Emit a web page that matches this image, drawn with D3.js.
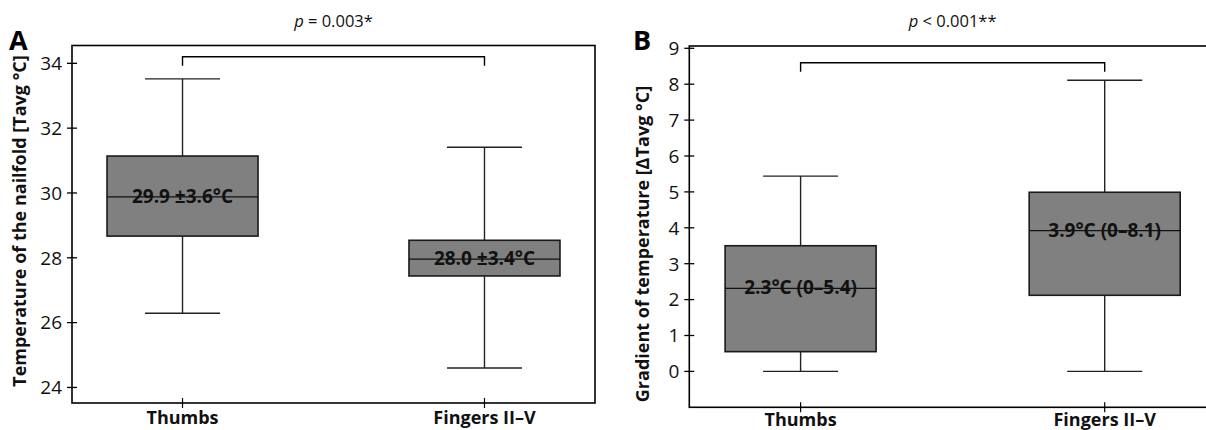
<!DOCTYPE html>
<html><head><meta charset="utf-8">
<script src="https://cdn.jsdelivr.net/npm/d3@7"></script>
<style>
html,body{margin:0;padding:0;background:#fff;}
svg{display:block;font-family:"Open Sans",sans-serif;}
</style></head>
<body><div id="chart"></div>
<script>
// ---- data ----
const categories = ["Thumbs", "Fingers II\u2013V"];
// Panel A: temperature of the nailfold
const aWhiskerLow  = [26.29, 24.6];
const aQ1          = [28.67, 27.44];
const aMedian      = [29.88, 27.96];
const aQ3          = [31.14, 28.54];
const aWhiskerHigh = [33.52, 31.41];
const aBoxLabels   = ["29.9 \u00b13.6\u00b0C", "28.0 \u00b13.4\u00b0C"];
const aTicks       = [24, 26, 28, 30, 32, 34];
// Panel B: gradient of temperature
const bWhiskerLow  = [0.0, 0.0];
const bQ1          = [0.55, 2.12];
const bMedian      = [2.31, 3.92];
const bQ3          = [3.50, 4.99];
const bWhiskerHigh = [5.44, 8.11];
const bBoxLabels   = ["2.3\u00b0C (0\u20135.4)", "3.9\u00b0C (0\u20138.1)"];
const bTicks       = [0, 1, 2, 3, 4, 5, 6, 7, 8, 9];

const W = 1206, H = 430;
const svg = d3.select("#chart").append("svg").attr("width", W).attr("height", H);

function panel(o) {
  const g = svg.append("g");
  const y = d3.scaleLinear().domain(o.domain).range([o.bottom, o.top]);
  const x = d3.scalePoint().domain(categories).range([o.left, o.right]).padding(0.366);
  const boxW = 151, capW = 75;

  // frame
  g.append("rect").attr("x", o.left).attr("y", o.top)
    .attr("width", o.right - o.left).attr("height", o.bottom - o.top)
    .attr("fill", "none").attr("stroke", "#000").attr("stroke-width", 1.6);

  // y axis ticks (crossing)
  g.selectAll(".yt").data(o.ticks).join("line")
    .attr("x1", o.left - 5).attr("x2", o.left + 5)
    .attr("y1", d => y(d)).attr("y2", d => y(d))
    .attr("stroke", "#000").attr("stroke-width", 1.3);
  g.selectAll(".yl").data(o.ticks).join("text")
    .attr("x", o.left - 10).attr("y", d => y(d)).attr("dy", "0.36em")
    .attr("text-anchor", "end").attr("font-size", 19).attr("fill", "#111")
    .text(d => d);

  // x ticks
  g.selectAll(".xt").data(categories).join("line")
    .attr("x1", d => x(d)).attr("x2", d => x(d))
    .attr("y1", o.bottom - 5).attr("y2", o.bottom + 5)
    .attr("stroke", "#000").attr("stroke-width", 1.2);
  g.selectAll(".xl").data(categories).join("text")
    .attr("x", d => x(d)).attr("y", Math.min(o.bottom + 21, 426))
    .attr("text-anchor", "middle").attr("font-size", 18).attr("font-weight", "bold")
    .attr("fill", "#111").text(d => d);

  const idx = d3.range(categories.length);
  idx.forEach(i => {
    const cx = x(categories[i]);
    g.append("line").attr("x1", cx).attr("x2", cx)
      .attr("y1", y(o.wh[i])).attr("y2", y(o.q3[i]))
      .attr("stroke", "#222").attr("stroke-width", 1.4);
    g.append("line").attr("x1", cx).attr("x2", cx)
      .attr("y1", y(o.q1[i])).attr("y2", y(o.wl[i]))
      .attr("stroke", "#222").attr("stroke-width", 1.4);
    g.append("line").attr("x1", cx - capW / 2).attr("x2", cx + capW / 2)
      .attr("y1", y(o.wh[i])).attr("y2", y(o.wh[i]))
      .attr("stroke", "#222").attr("stroke-width", 1.4);
    g.append("line").attr("x1", cx - capW / 2).attr("x2", cx + capW / 2)
      .attr("y1", y(o.wl[i])).attr("y2", y(o.wl[i]))
      .attr("stroke", "#222").attr("stroke-width", 1.4);
    g.append("rect").attr("x", cx - boxW / 2).attr("y", y(o.q3[i]))
      .attr("width", boxW).attr("height", y(o.q1[i]) - y(o.q3[i]))
      .attr("fill", "#808080").attr("stroke", "#1a1a1a").attr("stroke-width", 1.6);
    g.append("line").attr("x1", cx - boxW / 2).attr("x2", cx + boxW / 2)
      .attr("y1", y(o.med[i])).attr("y2", y(o.med[i]))
      .attr("stroke", "#111").attr("stroke-width", 1.3);
    g.append("text").attr("x", cx).attr("y", y(o.med[i]) + 6)
      .attr("text-anchor", "middle").attr("font-size", 19).attr("font-weight", "bold")
      .attr("fill", "#111").text(o.labels[i]);
  });

  // significance bracket
  const x0 = x(categories[0]), x1 = x(categories[1]);
  g.append("path")
    .attr("d", `M${x0},${o.brY + 9}V${o.brY}H${x1}V${o.brY + 9}`)
    .attr("fill", "none").attr("stroke", "#000").attr("stroke-width", 1.4);
  const pt = g.append("text").attr("x", (x0 + x1) / 2).attr("y", 27)
    .attr("text-anchor", "middle").attr("font-size", 16.5).attr("fill", "#111");
  pt.append("tspan").attr("font-style", "italic").text("p");
  pt.append("tspan").text(o.ptext);

  // panel letter
  g.append("text").attr("x", o.letterX).attr("y", 50)
    .attr("font-size", 27).attr("font-weight", "bold").attr("fill", "#000").text(o.letter);

  // y label
  g.append("text")
    .attr("transform", `translate(${o.ylabX},${o.ylabY}) rotate(-90)`)
    .attr("text-anchor", "middle").attr("font-size", 18).attr("font-weight", "bold")
    .attr("fill", "#111").text(o.ylab);
}

panel({
  left: 72, right: 595, top: 45.5, bottom: 403,
  domain: [23.52, 34.55], ticks: aTicks,
  wl: aWhiskerLow, q1: aQ1, med: aMedian, q3: aQ3, wh: aWhiskerHigh, labels: aBoxLabels,
  brY: 56.7, ptext: " = 0.003*", letter: "A", letterX: 9,
  ylab: "Temperature of the nailfold [Tavg \u00b0C]", ylabX: 26, ylabY: 221
});
panel({
  left: 689.3, right: 1216, top: 46, bottom: 407.3,
  domain: [-1.0, 9.064], ticks: bTicks,
  wl: bWhiskerLow, q1: bQ1, med: bMedian, q3: bQ3, wh: bWhiskerHigh, labels: bBoxLabels,
  brY: 62.7, ptext: " < 0.001**", letter: "B", letterX: 633,
  ylab: "Gradient of temperature [\u2206Tavg \u00b0C]", ylabX: 649, ylabY: 244
});
</script>
</body></html>
